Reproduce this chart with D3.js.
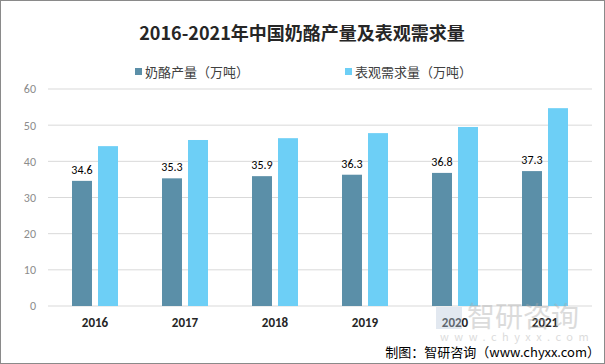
<!DOCTYPE html>
<html><head><meta charset="utf-8">
<script src="https://cdn.jsdelivr.net/npm/d3@7"></script>
<style>body{margin:0;background:#fff;}svg{display:block;font-family:"Microsoft YaHei","Noto Sans CJK SC",sans-serif;}</style>
</head><body>
<svg id="c" width="605" height="364"></svg>
<script>
const categories = ["2016","2017","2018","2019","2020","2021"];
const production = [34.6,35.3,35.9,36.3,36.8,37.3];
const demand = [44.2,45.9,46.4,47.8,49.5,54.7];
const yTicks = [0,10,20,30,40,50,60];
const seriesNames = ["奶酪产量（万吨）","表观需求量（万吨）"];
const colors = ["#5b8fa8","#6dcff6"];

const svg = d3.select("#c");
svg.append("rect").attr("x",0.5).attr("y",0.5).attr("width",604).attr("height",363)
  .attr("fill","#fff").attr("stroke","#8a8a8a");

const x = d3.scaleBand().domain(categories).range([50,590]);
const y = d3.scaleLinear().domain([0,60]).range([306,89]);

// grid
svg.append("g").selectAll("line").data(yTicks).join("line")
  .attr("x1",48).attr("x2",592).attr("y1",d=>y(d)).attr("y2",d=>y(d))
  .attr("stroke","#d9d9d9").attr("stroke-width",1);

// y axis
const ya = d3.axisLeft(y).tickValues(yTicks).tickSize(0).tickPadding(0);
const gy = svg.append("g").attr("transform","translate(36,0)").call(ya);
gy.select(".domain").remove();
gy.selectAll("text").attr("fill","#8c8c8c").attr("font-size",12).attr("font-family","Calibri,Carlito,'Liberation Sans',sans-serif");

// bars
const bw = 20, gap = 6;
const g = svg.append("g");
g.selectAll(".p").data(production).join("rect")
  .attr("x",(d,i)=>x(categories[i])+x.bandwidth()/2-gap/2-bw)
  .attr("y",d=>y(d)).attr("width",bw).attr("height",d=>y(0)-y(d)).attr("fill",colors[0]);
g.selectAll(".d").data(demand).join("rect")
  .attr("x",(d,i)=>x(categories[i])+x.bandwidth()/2+gap/2)
  .attr("y",d=>y(d)).attr("width",bw).attr("height",d=>y(0)-y(d)).attr("fill",colors[1]);
g.selectAll(".lbl").data(production).join("text")
  .attr("x",(d,i)=>x(categories[i])+x.bandwidth()/2-gap/2-bw/2)
  .attr("y",d=>y(d)-7).attr("text-anchor","middle").attr("font-size",12)
  .attr("font-family","Calibri,Carlito,'Liberation Sans',sans-serif").attr("fill","#000")
  .text(d=>d.toFixed(1));

// x axis
const xa = d3.axisBottom(x).tickSize(0).tickPadding(0);
const gx = svg.append("g").attr("transform","translate(0,318)").call(xa);
gx.select(".domain").remove();
gx.selectAll("text").attr("fill","#262626").attr("font-size",13).attr("font-weight","bold")
  .attr("font-family","Calibri,Carlito,'Liberation Sans',sans-serif");

// watermark (drawn translucent over the chart, as in the reference)
const wm = svg.append("g").attr("opacity",0.4).attr("pointer-events","none");
wm.append("rect").attr("x",436).attr("y",307).attr("width",26).attr("height",22).attr("fill","#b8c8dc");
wm.append("text").attr("x",467).attr("y",327).attr("font-size",28).attr("fill","#a8a8a8").text("智研咨询");
wm.append("text").attr("x",440).attr("y",341).attr("font-size",11).attr("fill","#a8a8a8").attr("letter-spacing",5.5).text("www.chyxx.com");

// title
svg.append("text").attr("x",302).attr("y",40).attr("text-anchor","middle")
  .attr("font-size",18).attr("font-weight","bold").attr("fill","#262626")
  .text("2016-2021年中国奶酪产量及表观需求量");

// legend
const lx = [135,345];
seriesNames.forEach((n,i)=>{
  svg.append("rect").attr("x",lx[i]).attr("y",68).attr("width",7).attr("height",7).attr("fill",colors[i]);
  svg.append("text").attr("x",lx[i]+10).attr("y",77).attr("font-size",13).attr("fill","#404040").text(n);
});

// source
svg.append("text").attr("x",600).attr("y",357).attr("text-anchor","end").attr("font-size",13)
  .attr("fill","#000").text("制图：智研咨询（www.chyxx.com）");
</script>
</body></html>
